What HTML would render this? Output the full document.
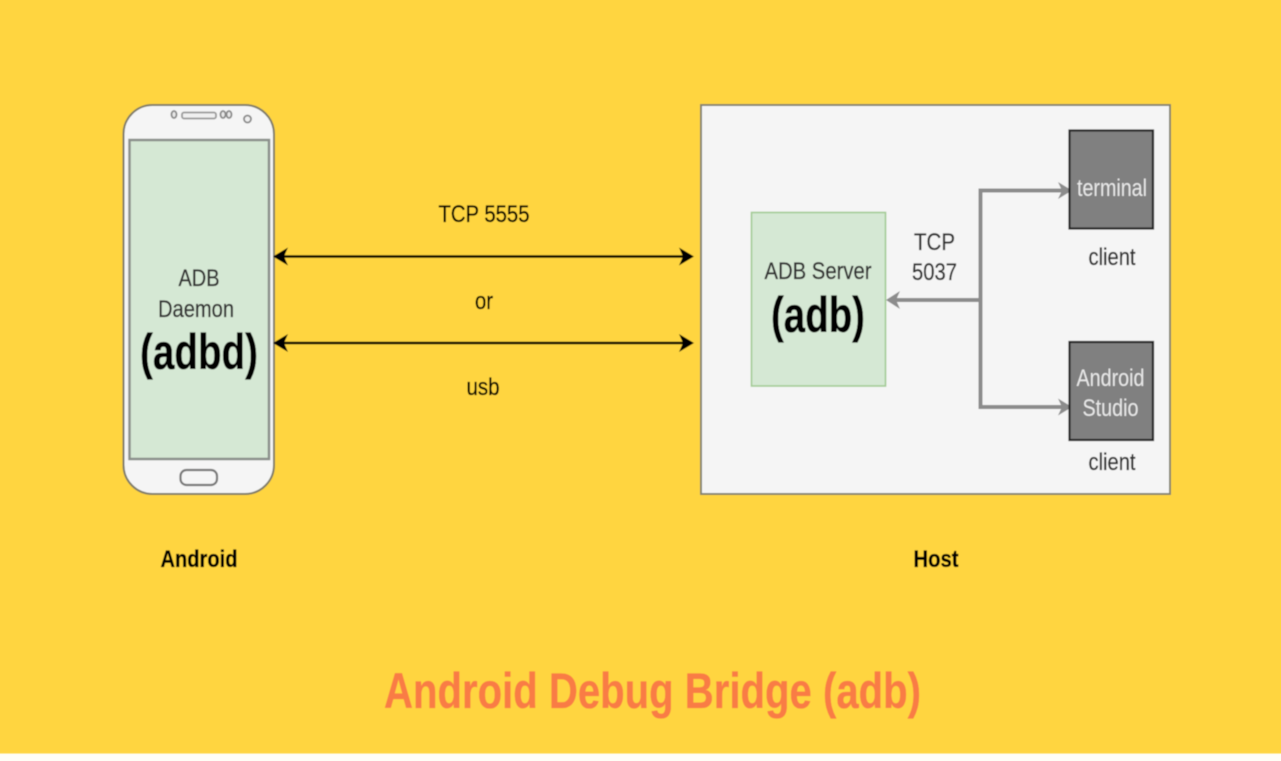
<!DOCTYPE html>
<html>
<head>
<meta charset="utf-8">
<style>
html,body{margin:0;padding:0;width:1281px;height:761px;overflow:hidden;background:#fff}
svg{display:block}
text{font-family:"Liberation Sans",sans-serif;text-anchor:middle}
</style>
</head>
<body>
<svg width="1281" height="761" viewBox="0 0 1281 761" xmlns="http://www.w3.org/2000/svg">
<defs>
<filter id="b" x="-5%" y="-5%" width="110%" height="110%"><feGaussianBlur stdDeviation="0.6"/></filter>
</defs>
<rect x="0" y="0" width="1281" height="761" fill="#fffef6"/>
<g filter="url(#b)">
<rect x="-5" y="-5" width="1291" height="758.5" fill="#ffd53f"/>

<!-- Phone -->
<rect x="123.5" y="105" width="150.5" height="389" rx="29" ry="29" fill="#f5f5f5" stroke="#7f7c68" stroke-width="2"/>
<rect x="129.5" y="140" width="139.5" height="319" fill="#d5e8d4" stroke="#8a8f8a" stroke-width="2.5"/>
<ellipse cx="174" cy="114.5" rx="2.5" ry="3.5" fill="#e8e8e8" stroke="#888" stroke-width="1.8"/>
<rect x="182" y="112.5" width="34" height="6" rx="2" fill="#f0f0f0" stroke="#999" stroke-width="1.8"/>
<ellipse cx="223" cy="114.5" rx="2.5" ry="3.5" fill="#e8e8e8" stroke="#888" stroke-width="1.8"/>
<ellipse cx="229" cy="114.5" rx="2.5" ry="3.5" fill="#e8e8e8" stroke="#888" stroke-width="1.8"/>
<circle cx="247.5" cy="119" r="3.5" fill="#f0f0f0" stroke="#888" stroke-width="1.8"/>
<rect x="180.5" y="470" width="36.5" height="15" rx="6" fill="#f5f5f5" stroke="#777" stroke-width="2.2"/>

<g stroke-width="0.35">
<text x="199" y="286" font-size="24" fill="#333" stroke="#333" textLength="41" lengthAdjust="spacingAndGlyphs">ADB</text>
<text x="196" y="317" font-size="24" fill="#333" stroke="#333" textLength="76" lengthAdjust="spacingAndGlyphs">Daemon</text>
<text x="199" y="369" font-size="50" font-weight="bold" fill="#000" stroke="#000" textLength="118" lengthAdjust="spacingAndGlyphs">(adbd)</text>

<text x="484" y="222" font-size="24" fill="#000" stroke="#000" textLength="91" lengthAdjust="spacingAndGlyphs">TCP 5555</text>
<text x="484" y="309" font-size="24" fill="#000" stroke="#000" textLength="18" lengthAdjust="spacingAndGlyphs">or</text>
<text x="483" y="395" font-size="24" fill="#000" stroke="#000" textLength="33" lengthAdjust="spacingAndGlyphs">usb</text>
</g>

<!-- Connectors -->
<line x1="280" y1="256.5" x2="686" y2="256.5" stroke="#000" stroke-width="2.5"/>
<polygon points="273,256.5 288,247.5 284,256.5 288,265.5" fill="#000"/>
<polygon points="694,256.5 679,247.5 683,256.5 679,265.5" fill="#000"/>
<line x1="280" y1="343" x2="686" y2="343" stroke="#000" stroke-width="2.5"/>
<polygon points="273,343 288,334 284,343 288,352" fill="#000"/>
<polygon points="694,343 679,334 683,343 679,352" fill="#000"/>

<!-- Host -->
<rect x="701" y="105" width="469" height="389" fill="#f5f5f5" stroke="#85836f" stroke-width="2"/>
<rect x="751.5" y="212.5" width="134" height="173.5" fill="#d5e8d4" stroke="#a2cb94" stroke-width="1.6"/>

<path d="M1064 190.5H980.5V407H1064M980.5 300H894" fill="none" stroke="#8c8c8c" stroke-width="4"/>
<polygon points="886,300 900,291 896,300 900,309" fill="#8c8c8c"/>
<polygon points="1072,190.5 1058,182 1062,190.5 1058,199" fill="#8c8c8c"/>
<polygon points="1072,407 1058,398.5 1062,407 1058,415.5" fill="#8c8c8c"/>

<rect x="1069.5" y="130.5" width="83.5" height="98" fill="#808080" stroke="#222" stroke-width="2.2"/>
<rect x="1069.5" y="342" width="83.5" height="98" fill="#808080" stroke="#222" stroke-width="2.2"/>

<g stroke-width="0.35">
<text x="818" y="279" font-size="24" fill="#333" stroke="#333" textLength="107" lengthAdjust="spacingAndGlyphs">ADB Server</text>
<text x="818" y="332" font-size="50" font-weight="bold" fill="#000" stroke="#000" textLength="94" lengthAdjust="spacingAndGlyphs">(adb)</text>
<text x="934.5" y="250" font-size="24" fill="#333" stroke="#333" textLength="41" lengthAdjust="spacingAndGlyphs">TCP</text>
<text x="934.5" y="280" font-size="24" fill="#333" stroke="#333" textLength="45" lengthAdjust="spacingAndGlyphs">5037</text>
<text x="1112" y="196" font-size="24" fill="#e8e8e8" textLength="70" lengthAdjust="spacingAndGlyphs">terminal</text>
<text x="1112" y="265" font-size="24" fill="#333" stroke="#333" textLength="47" lengthAdjust="spacingAndGlyphs">client</text>
<text x="1110.5" y="386" font-size="24" fill="#e8e8e8" textLength="68" lengthAdjust="spacingAndGlyphs">Android</text>
<text x="1110.5" y="416" font-size="24" fill="#e8e8e8" textLength="56" lengthAdjust="spacingAndGlyphs">Studio</text>
<text x="1112" y="470" font-size="24" fill="#333" stroke="#333" textLength="47" lengthAdjust="spacingAndGlyphs">client</text>

<text x="199" y="567" font-size="24" font-weight="bold" fill="#000" stroke="#000" textLength="77" lengthAdjust="spacingAndGlyphs">Android</text>
<text x="936" y="567" font-size="24" font-weight="bold" fill="#000" stroke="#000" textLength="45" lengthAdjust="spacingAndGlyphs">Host</text>

<text x="652.5" y="708" font-size="50" font-weight="bold" fill="#f97c45" stroke="#f97c45" textLength="537" lengthAdjust="spacingAndGlyphs">Android Debug Bridge (adb)</text>
</g>
</g>
</svg>
</body>
</html>
